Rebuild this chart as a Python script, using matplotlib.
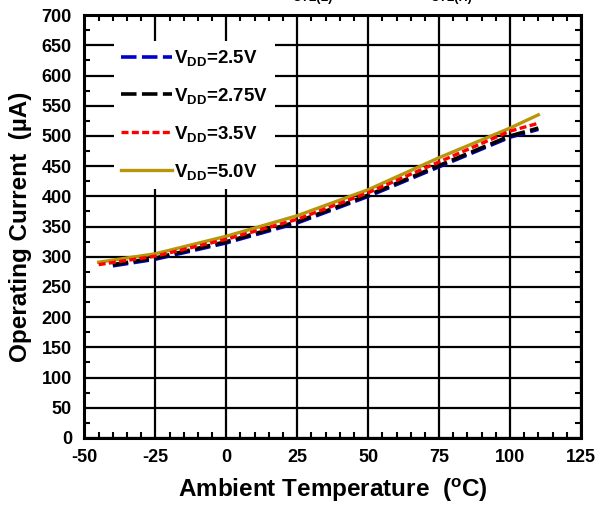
import matplotlib
matplotlib.use("Agg")
import matplotlib.pyplot as plt
from matplotlib.ticker import MultipleLocator

plt.rcParams['font.family'] = ['Liberation Sans', 'DejaVu Sans']
plt.rcParams['font.weight'] = 'bold'
plt.rcParams['mathtext.fontset'] = 'custom'
plt.rcParams['mathtext.rm'] = 'Liberation Sans:bold'
plt.rcParams['mathtext.bf'] = 'Liberation Sans:bold'
plt.rcParams['mathtext.it'] = 'Liberation Sans:bold'
plt.rcParams['mathtext.default'] = 'bf'
plt.rcParams['axes.unicode_minus'] = False

# Data
temp_hi = [-45, -25, 0, 25, 50, 75, 100, 110]
temp_lo = [-40, -25, 0, 25, 50, 75, 100, 110]
i_25 = [285, 296, 323, 356, 400, 449, 498, 511]
i_275 = [287, 298, 325, 358, 402, 451, 500, 513]
i_35 = [287, 301, 329, 362, 406, 457, 508, 521]
i_50 = [291, 305, 334, 368, 411, 464, 513, 535]

labels = [r'V$_{DD}$=2.5V', r'V$_{DD}$=2.75V', r'V$_{DD}$=3.5V', r'V$_{DD}$=5.0V']
xticks = [-50, -25, 0, 25, 50, 75, 100, 125]
yticks = list(range(0, 701, 50))

fig = plt.figure(figsize=(5.97, 5.05), dpi=100)
ax = fig.add_axes([0.1415, 0.1327, 0.973 - 0.1415, 0.970 - 0.1327])

ax.plot(temp_lo, i_25, color='#0000cc', lw=2.6, dashes=(4.3, 1.5), label=labels[0], zorder=3)
ax.plot(temp_lo, i_275, color='black', lw=2.6, dashes=(4.3, 1.5), label=labels[1], zorder=3)
ax.plot(temp_hi, i_35, color='red', lw=2.4, dashes=(2.1, 1.0), label=labels[2], zorder=4)
ax.plot(temp_hi, i_50, color='#b8960a', lw=2.4, label=labels[3], zorder=2)

ax.set_xlim(-50, 125)
ax.set_ylim(0, 700)
ax.set_xticks(xticks)
ax.set_yticks(yticks)
ax.xaxis.set_minor_locator(MultipleLocator(5))
ax.yaxis.set_minor_locator(MultipleLocator(25))
ax.grid(True, which='major', color='black', lw=1.6)
ax.tick_params(which='both', direction='in', top=True, right=True, labelsize=13)
ax.tick_params(axis='y', which='major', length=0, pad=9)
ax.tick_params(axis='x', which='major', length=0, pad=8)
ax.tick_params(which='minor', length=4.5, width=1.5)
for s in ax.spines.values():
    s.set_linewidth(2.2)
    s.set_zorder(5)
for lab in ax.get_xticklabels() + ax.get_yticklabels():
    lab.set_fontweight('bold')

ax.set_xlabel('Ambient Temperature  ($^{\\mathregular{o}}$C)', fontsize=17.5, fontweight='bold', labelpad=8)
ax.set_ylabel('Operating Current  (\u00b5A)', fontsize=17.5, fontweight='bold', labelpad=7)

leg = ax.legend(loc='upper left', bbox_to_anchor=(0.04, 0.962), frameon=True, fancybox=False,
                facecolor='white', edgecolor='none', framealpha=1, fontsize=13.5,
                handlelength=2.7, labelspacing=0.95, handletextpad=0.1, borderpad=0.4)
leg.set_zorder(6)

fig.text(0.49, 0.992, 'UTL(L)', fontsize=9, fontweight='bold', ha='left', va='bottom')
fig.text(0.72, 0.992, 'UTL(H)', fontsize=9, fontweight='bold', ha='left', va='bottom')

fig.savefig('out.png', dpi=100)
